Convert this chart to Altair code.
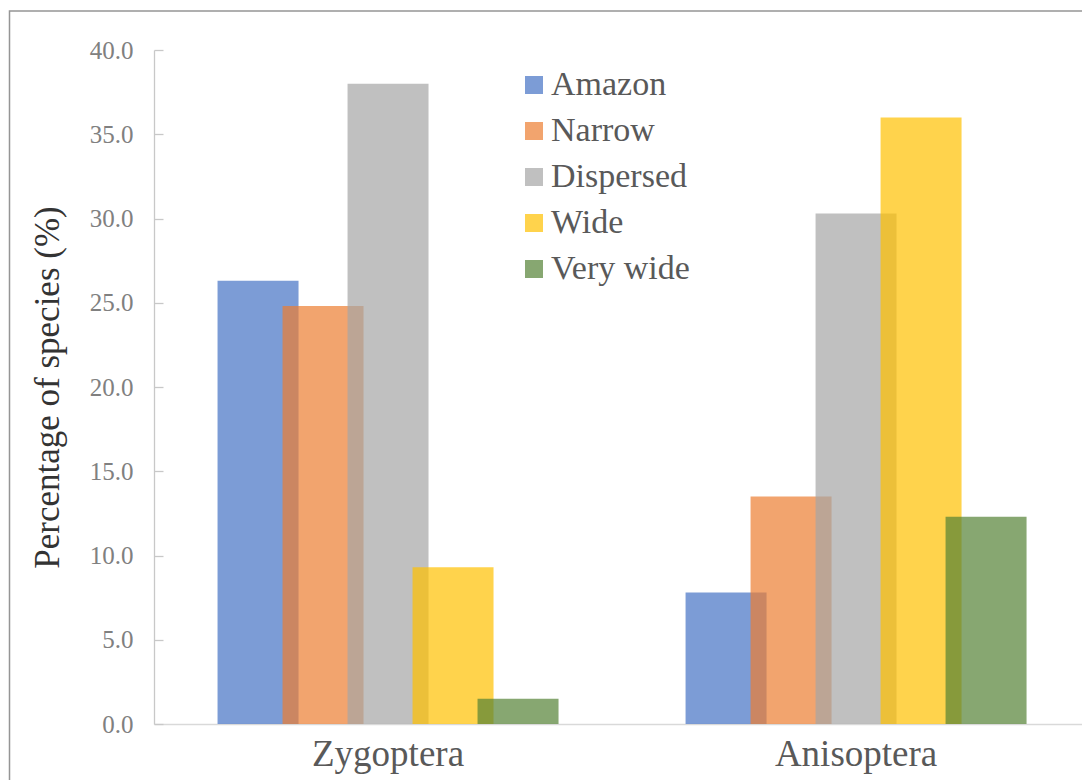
import altair as alt
import pandas as pd

groups = ["Zygoptera", "Anisoptera"]
series = ["Amazon", "Narrow", "Dispersed", "Wide", "Very wide"]
zygoptera = [26.3, 24.8, 38.0, 9.3, 1.5]
anisoptera = [7.8, 13.5, 30.3, 36.0, 12.3]
colors = ["#4472C4", "#ED7D31", "#A5A5A5", "#FFC000", "#548235"]
y_ticks = [0, 5, 10, 15, 20, 25, 30, 35, 40]

rows = []
for g, vals in zip(groups, [zygoptera, anisoptera]):
    for s, v in zip(series, vals):
        rows.append({"group": g, "series": s, "value": v})
df = pd.DataFrame(rows)

SERIF = "'Liberation Serif', 'Times New Roman', Times, serif"
W, H = 928, 674

x_enc = alt.X(
    "group:N", sort=groups, title=None,
    scale=alt.Scale(paddingInner=0.3056, paddingOuter=0.1442, align=0.53),
    axis=alt.Axis(labelFontSize=37, labelColor="#595959", labelFont=SERIF,
                  labelAngle=0, ticks=False, domainColor="#d9d9d9",
                  domainWidth=1.3, labelPadding=12),
)
xoff_enc = alt.XOffset("series:N", sort=series,
                       scale=alt.Scale(paddingInner=0, paddingOuter=0))
color_enc = alt.Color(
    "series:N", sort=series,
    scale=alt.Scale(domain=series, range=colors),
    legend=alt.Legend(orient="none", legendX=363, legendY=18, title=None,
                      labelFontSize=34, labelFont=SERIF, labelColor="#595959",
                      symbolType="square", symbolSize=324, symbolOpacity=0.7,
                      symbolStrokeWidth=0, rowPadding=12, labelOffset=0,
                      padding=0, labelLimit=400),
)

bars = alt.Chart(df).mark_bar(width=81, fillOpacity=0.7).encode(
    x=x_enc,
    xOffset=xoff_enc,
    y=alt.Y("value:Q", scale=alt.Scale(domain=[0, 40]),
            title="Percentage of species (%)",
            axis=alt.Axis(values=y_ticks, format=".1f", grid=False,
                          ticks=False, labelPadding=21, labelFontSize=25,
                          labelFont=SERIF, labelColor="#808080",
                          domainColor="#c8c8c8", domainWidth=1.3,
                          titleFont=SERIF, titleFontSize=35,
                          titleFontWeight="normal", titleColor="#333333",
                          titlePadding=24)),
    color=color_enc,
)

ticks = alt.Chart(df).mark_bar(opacity=0).encode(
    x=x_enc,
    xOffset=xoff_enc,
    y=alt.Y("value:Q", scale=alt.Scale(domain=[0, 40]), title=None,
            axis=alt.Axis(orient="right", offset=-W, values=y_ticks,
                          labels=False, domain=False, grid=False, ticks=True,
                          tickSize=9, tickColor="#c8c8c8", tickWidth=1.3)),
)

frame = alt.Chart(pd.DataFrame({"k": [0]})).mark_rect(
    fill="transparent", stroke="#959595", strokeWidth=1.5
).encode(
    x=alt.value(-144.5), x2=alt.value(1200),
    y=alt.value(-39), y2=alt.value(900),
)

chart = alt.layer(frame, bars, ticks).resolve_axis(y="independent").properties(
    width=W, height=H,
    autosize=alt.AutoSizeParams(type="none"),
    padding={"left": 146, "top": 42, "right": 0, "bottom": 56},
).configure_view(stroke=None)

chart.save("out.html", embed_options={"renderer": "svg", "actions": False})
